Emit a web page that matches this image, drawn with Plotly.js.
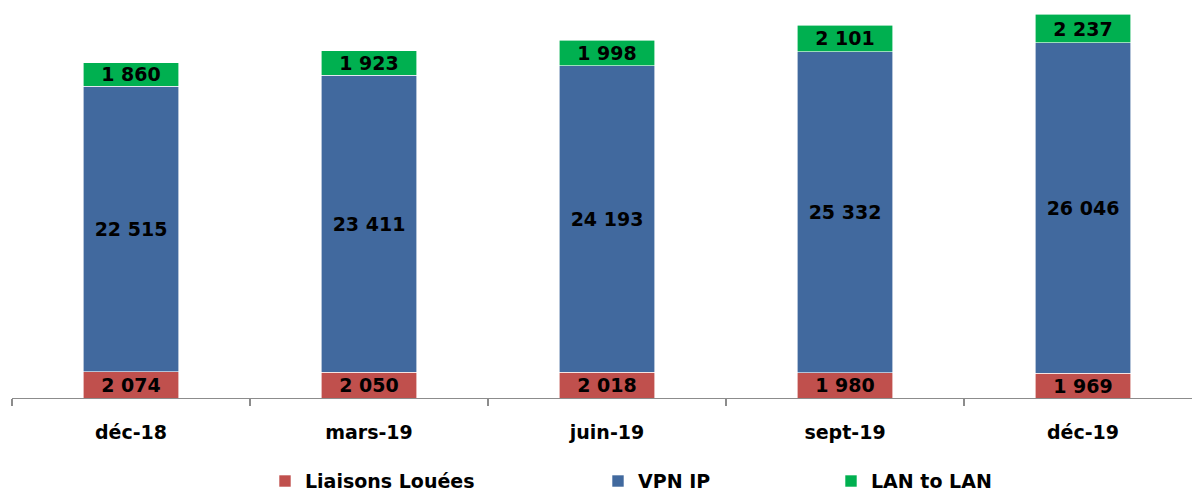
<!DOCTYPE html>
<html><head><meta charset="utf-8">
<script src="https://cdn.plot.ly/plotly-3.0.1.min.js"></script>
<style>body{margin:0;padding:0;background:#fff}#chart{width:1192px;height:491px}</style>
</head><body><div id="chart"></div>
<script>
const categories = ["déc-18", "mars-19", "juin-19", "sept-19", "déc-19"];
const liaisonsLouees = [2074, 2050, 2018, 1980, 1969];
const vpnIP = [22515, 23411, 24193, 25332, 26046];
const lanToLan = [1860, 1923, 1998, 2101, 2237];
const seriesNames = ["Liaisons Louées", "VPN IP", "LAN to LAN"];

const FONT = "'DejaVu Sans', sans-serif";
const colors = ["#C0504D", "#41699E", "#00B050"];
const legends = ["legend", "legend2", "legend3"];
const data = [liaisonsLouees, vpnIP, lanToLan].map((vals, i) => ({
  type: "bar",
  name: seriesNames[i],
  x: categories,
  y: vals,
  legend: legends[i],
  marker: {color: colors[i], line: {color: "#ffffff", width: 0.6}},
  texttemplate: "%{y:,.0f}",
  textposition: "inside",
  insidetextanchor: "middle",
  constraintext: "none",
  textangle: 0,
  textfont: {family: FONT, size: 19, color: "#000000", weight: 700},
  hoverinfo: "skip"
}));

const legFont = {family: FONT, size: 19, color: "#000000", weight: 700};
const legBase = {orientation: "h", xref: "container", yref: "container", yanchor: "middle", xanchor: "left", y: 0.02, font: legFont, bgcolor: "rgba(0,0,0,0)", itemwidth: 30};
const layout = {
  width: 1192, height: 491,
  margin: {l: 12, r: 0, t: 5, b: 93},
  paper_bgcolor: "#ffffff", plot_bgcolor: "#ffffff",
  barmode: "stack",
  bargap: 0.597,
  separators: ", ",
  showlegend: true,
  legend: Object.assign({}, legBase, {x: 265 / 1192}),
  legend2: Object.assign({}, legBase, {x: 598 / 1192}),
  legend3: Object.assign({}, legBase, {x: 831 / 1192}),
  xaxis: {
    type: "category",
    range: [-0.5, 4.458],
    showline: true, linecolor: "#8C8C8C", linewidth: 1.3,
    ticks: "outside", tickson: "boundaries", ticklen: 7, tickcolor: "#8C8C8C", tickwidth: 1.3,
    ticklabelstandoff: 17,
    tickfont: {family: FONT, size: 19, color: "#000000", weight: 700},
    showgrid: false, zeroline: false, fixedrange: true
  },
  yaxis: {range: [0, 31000], visible: false, showgrid: false, zeroline: false, fixedrange: true}
};
Plotly.newPlot("chart", data, layout, {displayModeBar: false, staticPlot: true});
</script></body></html>
